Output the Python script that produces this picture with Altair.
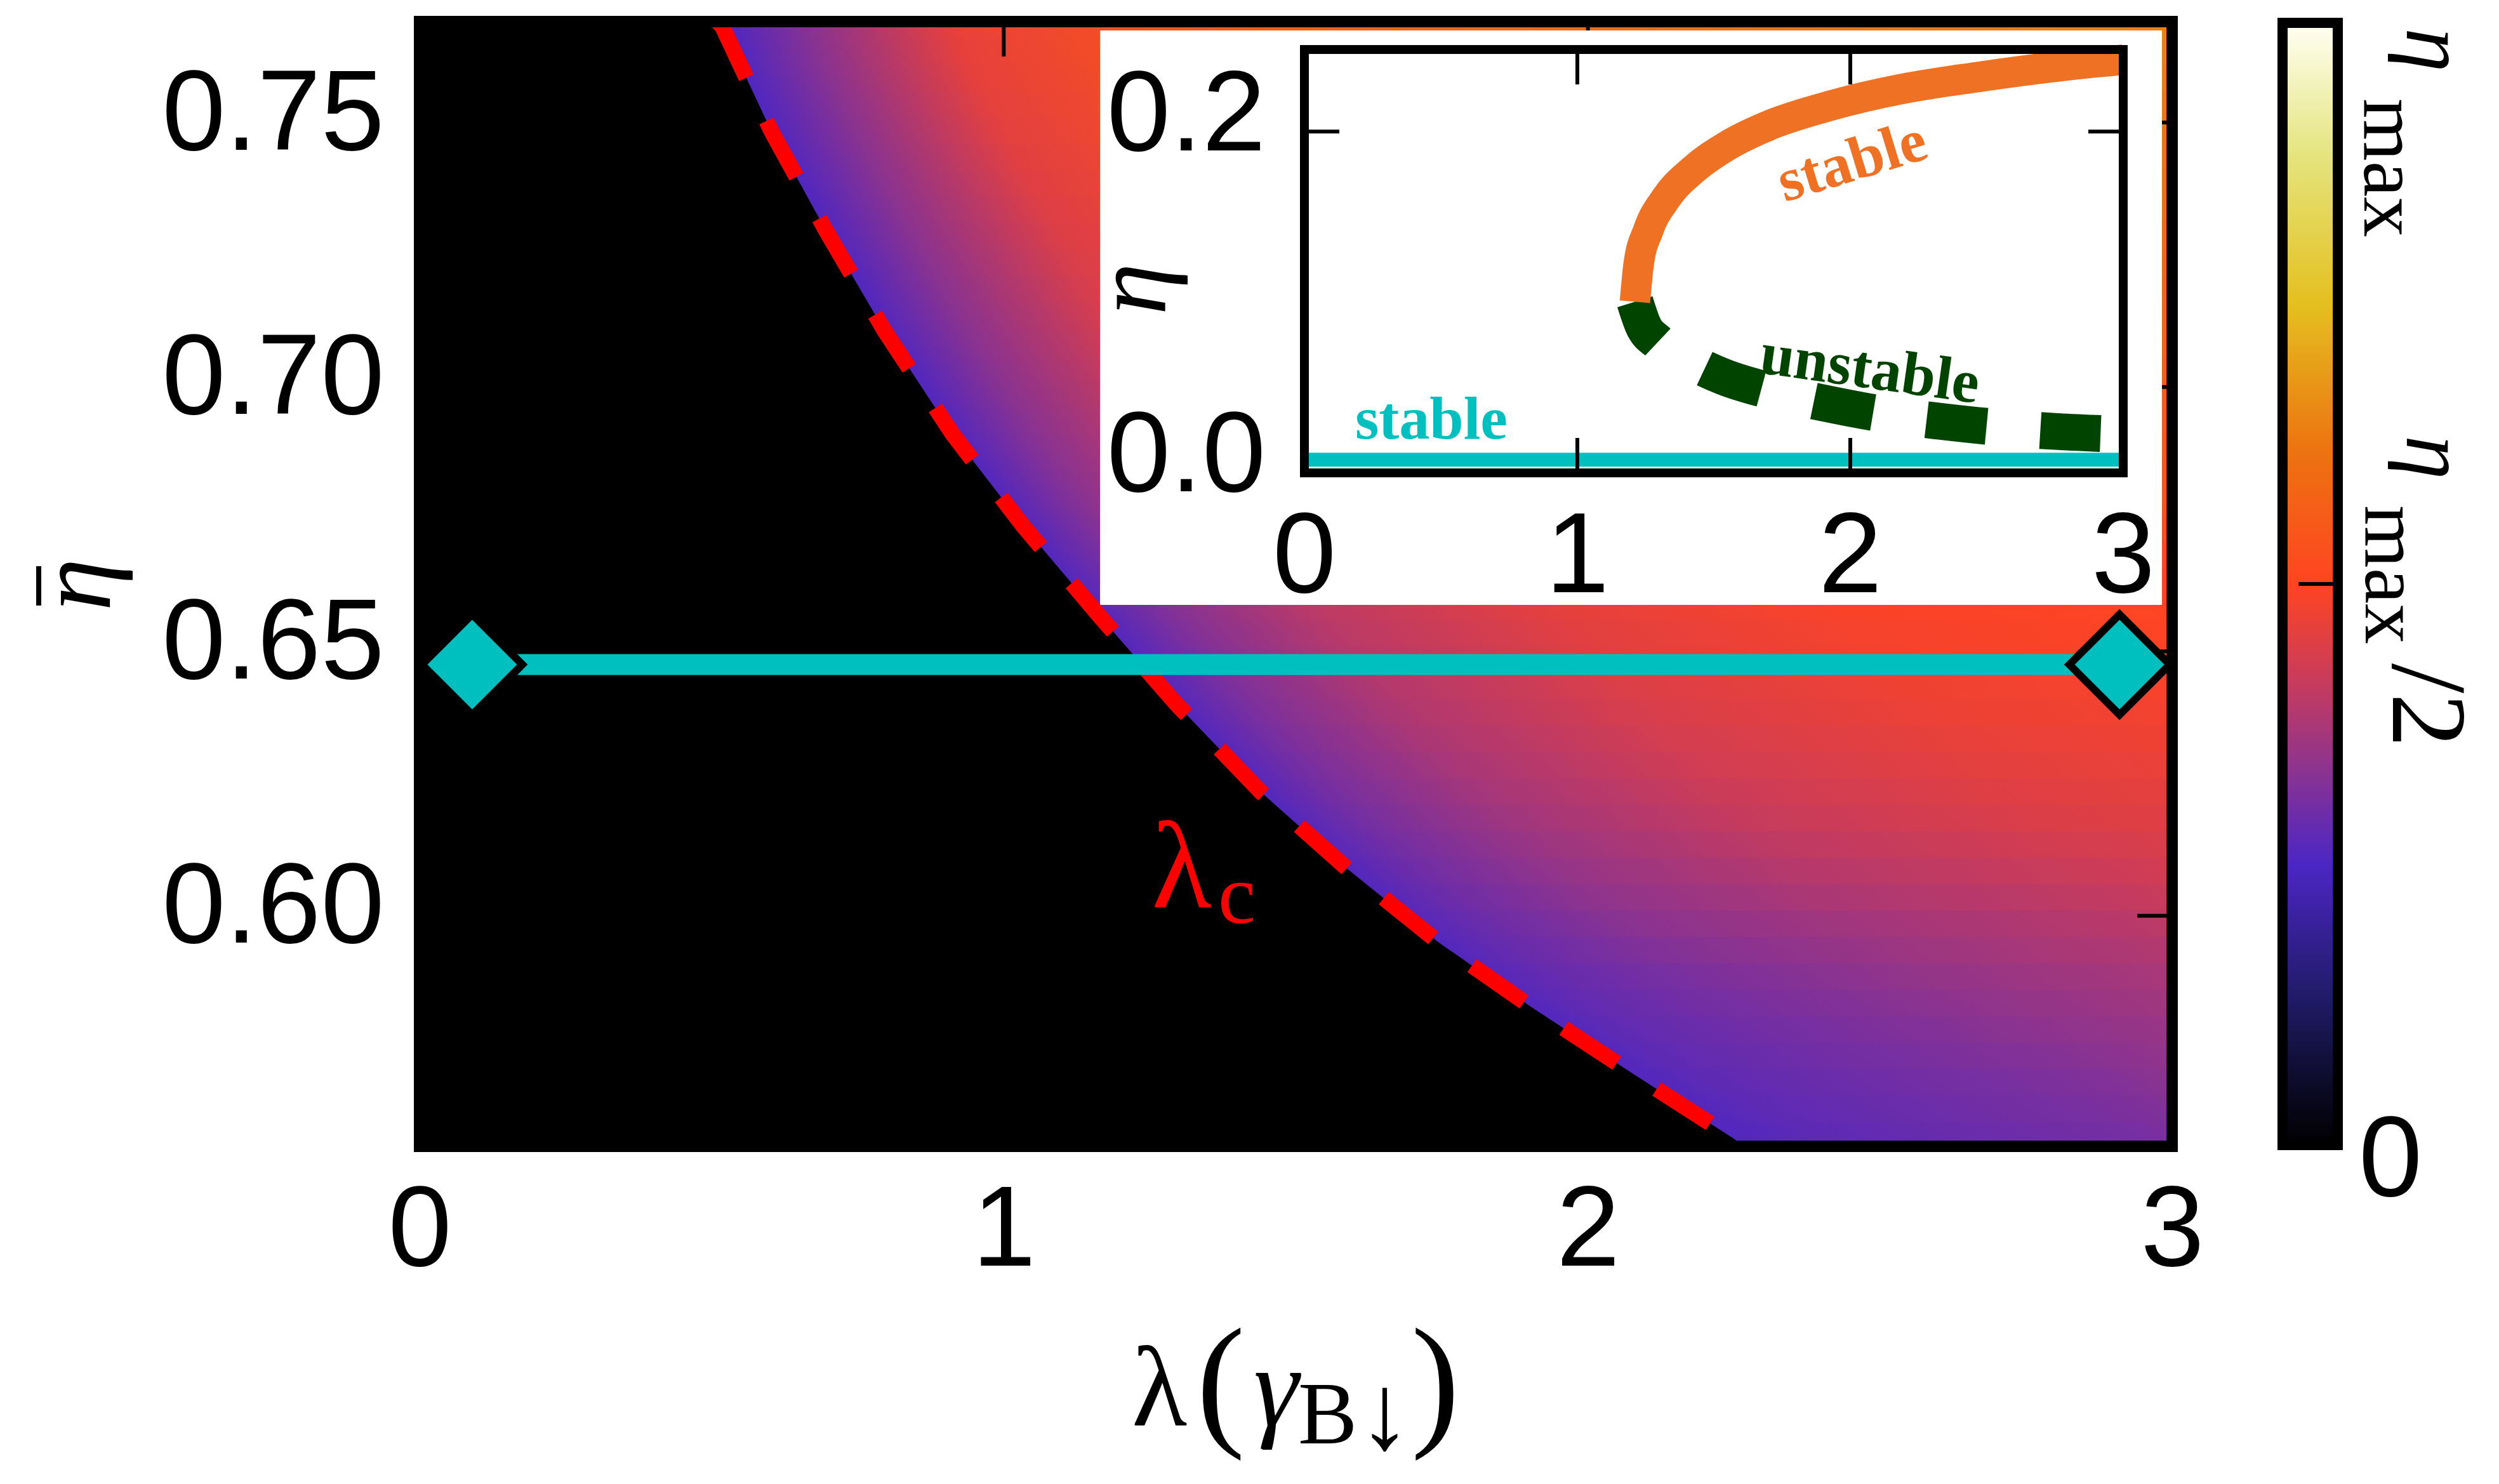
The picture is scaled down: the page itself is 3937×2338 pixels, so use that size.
import altair as alt
import pandas as pd

# ---------------- values ----------------
# main panel
main_x_ticks = [0, 1, 2, 3]
main_y_ticks = [0.60, 0.65, 0.70, 0.75]
main_x_domain = [0.0, 3.0]
main_y_domain = [0.5564, 0.7691]

# critical line lambda_c(eta_bar) (red dashed)
crit_eta = [0.7691, 0.7682, 0.7484, 0.7295, 0.7106, 0.6910, 0.6736, 0.6568,
            0.6401, 0.6234, 0.6088, 0.5950, 0.5826, 0.5702, 0.5579, 0.5564]
crit_lam = [0.510, 0.518, 0.602, 0.696, 0.796, 0.913, 1.034, 1.163,
            1.295, 1.440, 1.589, 1.744, 1.905, 2.076, 2.249, 2.268]

# heat-map rows: lower eta_bar edge, boundary lambda at the row's upper edge,
# value (fraction of eta_max) at distances row_offsets from the boundary, and at lambda = 3
row_eta_lo = [0.556, 0.566, 0.576, 0.586, 0.596, 0.606, 0.616, 0.626, 0.636, 0.646, 0.656,
              0.666, 0.676, 0.686, 0.696, 0.706, 0.716, 0.726, 0.736, 0.746, 0.756, 0.766]
row_lam_start = [2.135, 1.996, 1.861, 1.733, 1.620, 1.516, 1.417, 1.331, 1.248, 1.169, 1.092,
                 1.017, 0.948, 0.883, 0.824, 0.767, 0.715, 0.664, 0.614, 0.570, 0.527, 0.510]
row0_lam_lo = 2.275   # boundary lambda at the lowest row's lower edge
row_offsets = [0.0, 0.15, 0.4, 0.8, 1.3, 2.0]
row_values = [
    [0.25, 0.270, 0.287, 0.310],
    [0.25, 0.274, 0.293, 0.318],
    [0.25, 0.279, 0.302, 0.332],
    [0.25, 0.284, 0.312, 0.346],
    [0.25, 0.291, 0.332, 0.365, 0.397],
    [0.25, 0.298, 0.348, 0.390, 0.420],
    [0.25, 0.305, 0.362, 0.412, 0.443],
    [0.25, 0.310, 0.373, 0.426, 0.457],
    [0.25, 0.315, 0.383, 0.438, 0.470],
    [0.25, 0.318, 0.390, 0.448, 0.480],
    [0.25, 0.323, 0.398, 0.458, 0.490],
    [0.25, 0.326, 0.405, 0.465, 0.500],
    [0.25, 0.329, 0.418, 0.475, 0.512, 0.540],
    [0.25, 0.329, 0.422, 0.482, 0.520, 0.550],
    [0.25, 0.330, 0.427, 0.490, 0.530, 0.560],
    [0.25, 0.330, 0.432, 0.498, 0.540, 0.570],
    [0.25, 0.330, 0.438, 0.506, 0.550, 0.580],
    [0.25, 0.330, 0.444, 0.514, 0.558, 0.590],
    [0.25, 0.330, 0.450, 0.522, 0.566, 0.600],
    [0.25, 0.330, 0.456, 0.530, 0.574, 0.608],
    [0.25, 0.330, 0.461, 0.538, 0.582, 0.616],
    [0.25, 0.330, 0.465, 0.546, 0.590, 0.624],
]
row_end_values = [0.328, 0.340, 0.356, 0.376, 0.410, 0.432, 0.452, 0.468, 0.482, 0.495, 0.503,
                  0.515, 0.540, 0.552, 0.563, 0.574, 0.586, 0.598, 0.610, 0.622, 0.634, 0.645]

# horizontal path with the two diamonds
path_lam = [0.09, 2.91]
path_eta = [0.6475, 0.6475]

# lambda_c label position
lamc_lam = [1.253]
lamc_eta = [0.6017]
sub_c_lam = [1.367]
sub_c_eta = [0.5986]

# inset
inset_x_ticks = [0, 1, 2, 3]
inset_y_ticks = [0.0, 0.2]
inset_x_domain = [0.0, 3.0]
inset_y_domain = [-0.008, 0.25]
stable_lam = [1.211, 1.225, 1.259, 1.324, 1.423, 1.549, 1.718, 1.930, 2.184, 2.466, 2.747, 2.987, 3.0]
stable_eta = [0.0963, 0.1197, 0.1395, 0.1592, 0.1765, 0.1913, 0.2048, 0.2159, 0.2258, 0.2332, 0.2394, 0.2436, 0.2438]
unstable_lam = [1.211, 1.239, 1.296, 1.394, 1.535, 1.704, 1.902, 2.099, 2.324, 2.536, 2.747, 2.973, 3.0]
unstable_eta = [0.0963, 0.0827, 0.0716, 0.0617, 0.0506, 0.0420, 0.0346, 0.0284, 0.0235, 0.0198, 0.0173, 0.0156, 0.0154]
trivial_lam = [0.0, 3.0]
trivial_eta = [0.0, 0.0]

# colour map (fraction of eta_max -> colour)
pal_pos = [0.0, 0.06, 0.125, 0.25, 0.34, 0.42, 0.5, 0.62, 0.75, 0.88, 1.0]
pal_col = ["#000000", "#0e0c2c", "#1e1a62", "#4b26c4", "#90348c", "#cc3c58",
           "#ff4422", "#ec7410", "#e4c020", "#e4e47c", "#fffff4"]

# ---------------- styling / layout ----------------
SANS = "Liberation Sans"
SERIF = "Liberation Serif"
CYAN = "#00bfbf"
ORANGE = "#ee7124"
GREEN = "#004400"
RED = "#ff0000"
W, H = 2761, 1772
PAD = {"left": 653, "top": 26, "right": 507, "bottom": 524}


def hex2rgb(h):
    return tuple(int(h[i:i + 2], 16) for i in (1, 3, 5))


def palette(v):
    v = min(max(v, 0.0), 1.0)
    for i in range(len(pal_pos) - 1):
        if v <= pal_pos[i + 1]:
            t = (v - pal_pos[i]) / (pal_pos[i + 1] - pal_pos[i])
            a, b = hex2rgb(pal_col[i]), hex2rgb(pal_col[i + 1])
            return "#%02x%02x%02x" % tuple(int(round(a[k] + (b[k] - a[k]) * t)) for k in range(3))
    return pal_col[-1]


xs = alt.Scale(domain=main_x_domain, zero=False, nice=False)
ys = alt.Scale(domain=main_y_domain, zero=False, nice=False)
x_axis = alt.Axis(values=main_x_ticks, format="d", title=None, labelFont=SANS, labelFontSize=180,
                  labelColor="black", labelPadding=45, tickSize=0, domain=False, grid=False,
                  labelOverlap=False, labelFlush=False, labelBound=False, labelLimit=0)
y_axis = alt.Axis(values=main_y_ticks, format=".2f", title=None, labelFont=SANS, labelFontSize=180,
                  labelColor="black", labelPadding=56, labelOffset=-12, tickSize=0, domain=False,
                  grid=False, labelOverlap=False, labelFlush=False, labelBound=False, labelLimit=0)


def MX(f):
    return alt.X(f, type="quantitative", scale=xs, axis=x_axis)


def MY(f):
    return alt.Y(f, type="quantitative", scale=ys, axis=y_axis)


# inset scale placement (pixel positions of the inset frame inside the main view)
ix0, ix1 = 1394.0, 2684.0   # lambda = 0 and 3
iy_top, iy_bot = 44.0, 711.0  # eta = 0.25 and -0.008
sx = (ix1 - ix0) / (inset_x_domain[1] - inset_x_domain[0])
sy = (iy_bot - iy_top) / (inset_y_domain[1] - inset_y_domain[0])
ixs = alt.Scale(domain=[inset_x_domain[0] - ix0 / sx, inset_x_domain[1] + (W - ix1) / sx],
                zero=False, nice=False)
iys = alt.Scale(domain=[inset_y_domain[0] - (H - iy_bot) / sy, inset_y_domain[1] + iy_top / sy],
                zero=False, nice=False)


def IX(f):
    return alt.X(f, type="quantitative", scale=ixs, axis=None)


def IY(f):
    return alt.Y(f, type="quantitative", scale=iys, axis=None)


one = pd.DataFrame({"a": [0]})

# ---------------- main panel ----------------
band_layers, blend_layers = [], []
for i, (lo, start) in enumerate(zip(row_eta_lo, row_lam_start)):
    span = main_x_domain[1] - start
    lower = row_lam_start[i - 1] if i > 0 else row0_lam_lo
    slant = max(lower - start, 0.0) / span      # gradient follows the sloping boundary
    stops = [alt.GradientStop(offset=round(d / span, 4), color=palette(v))
             for d, v in zip(row_offsets, row_values[i]) if d < span]
    stops.append(alt.GradientStop(offset=1, color=palette(row_end_values[i])))
    grad = alt.LinearGradient(gradient="linear", stops=stops, x1=0, y1=round(slant, 4), x2=1, y2=0)
    hi = row_eta_lo[i + 1] if i + 1 < len(row_eta_lo) else lo + 0.01
    half = (hi - lo) / 2
    df = pd.DataFrame({"lam0": [start], "lam1": [main_x_domain[1]], "eta0": [lo], "eta1": [hi + 0.0004]})
    band_layers.append(
        alt.Chart(df).mark_rect(fill=grad, clip=True, strokeWidth=0)
        .encode(x=MX("lam0"), x2="lam1", y=MY("eta0"), y2="eta1")
    )
    # half-row shifted translucent copy softens the steps between rows
    df2 = pd.DataFrame({"lam0": [start], "lam1": [main_x_domain[1]], "eta0": [lo - half], "eta1": [hi - half]})
    blend_layers.append(
        alt.Chart(df2).mark_rect(fill=grad, clip=True, strokeWidth=0, opacity=0.5)
        .encode(x=MX("lam0"), x2="lam1", y=MY("eta0"), y2="eta1")
    )
main_layers = band_layers + blend_layers

crit_df = pd.DataFrame({"lam": crit_lam, "eta": crit_eta, "lam_left": [0.0] * len(crit_lam)})
main_layers.append(
    alt.Chart(crit_df).mark_area(orient="horizontal", color="black", clip=True)
    .encode(y=MY("eta"), x=MX("lam"), x2="lam_left")
)
main_layers.append(
    alt.Chart(crit_df).mark_line(color=RED, strokeWidth=25, strokeDash=[100, 75], clip=True)
    .encode(x=MX("lam"), y=MY("eta"), order=alt.Order("eta", sort="descending"))
)
main_layers.append(
    alt.Chart(pd.DataFrame({"lam": lamc_lam, "eta": lamc_eta, "t": ["λ"]}))
    .mark_text(font=SERIF, fontSize=195, color=RED, align="left", baseline="alphabetic")
    .encode(x=MX("lam"), y=MY("eta"), text="t:N")
)
main_layers.append(
    alt.Chart(pd.DataFrame({"lam": sub_c_lam, "eta": sub_c_eta, "t": ["c"]}))
    .mark_text(font=SERIF, fontSize=133, color=RED, align="left", baseline="alphabetic")
    .encode(x=MX("lam"), y=MY("eta"), text="t:N")
)
# inward mirror ticks (top and right)
main_layers.append(
    alt.Chart(pd.DataFrame({"lam": main_x_ticks[1:3]})).mark_rule(color="black", strokeWidth=6)
    .encode(x=MX("lam"), y=alt.value(0), y2=alt.value(55))
)
main_layers.append(
    alt.Chart(pd.DataFrame({"eta": main_y_ticks})).mark_rule(color="black", strokeWidth=6)
    .encode(y=MY("eta"), x=alt.value(W - 55), x2=alt.value(W))
)
path_df = pd.DataFrame({"lam": path_lam, "eta": path_eta})
main_layers.append(
    alt.Chart(path_df).mark_line(color=CYAN, strokeWidth=33).encode(x=MX("lam"), y=MY("eta"))
)
main_layers.append(
    alt.Chart(path_df).mark_point(shape="diamond", size=24964, filled=True, fill=CYAN,
                                  stroke="black", strokeWidth=12, opacity=1)
    .encode(x=MX("lam"), y=MY("eta"))
)
main_group = alt.layer(*main_layers)

# ---------------- inset ----------------
inset_layers = [
    alt.Chart(one).mark_rect(fill="white", strokeWidth=0)
    .encode(x=alt.value(1072), x2=alt.value(2745), y=alt.value(14), y2=alt.value(919)),
    alt.Chart(pd.DataFrame({"lam": trivial_lam, "eta": trivial_eta}))
    .mark_line(color=CYAN, strokeWidth=22).encode(x=IX("lam"), y=IY("eta")),
    alt.Chart(pd.DataFrame({"lam": unstable_lam, "eta": unstable_eta}))
    .mark_line(color=GREEN, strokeWidth=58, strokeDash=[95, 85], strokeDashOffset=20,
               interpolate="monotone")
    .encode(x=IX("lam"), y=IY("eta")),
    alt.Chart(pd.DataFrame({"lam": stable_lam, "eta": stable_eta}))
    .mark_line(color=ORANGE, strokeWidth=48, interpolate="monotone", strokeCap="butt")
    .encode(x=IX("lam"), y=IY("eta")),
    alt.Chart(pd.DataFrame({"lam": [2.007], "eta": [0.1814], "t": ["stable"]}))
    .mark_text(font=SERIF, fontWeight="bold", fontSize=96, color=ORANGE, angle=343,
               align="center", baseline="middle")
    .encode(x=IX("lam"), y=IY("eta"), text="t:N"),
    alt.Chart(pd.DataFrame({"lam": [2.072], "eta": [0.0549], "t": ["unstable"]}))
    .mark_text(font=SERIF, fontWeight="bold", fontSize=96, color=GREEN, angle=8,
               align="center", baseline="middle")
    .encode(x=IX("lam"), y=IY("eta"), text="t:N"),
    alt.Chart(pd.DataFrame({"lam": [0.465], "eta": [0.024], "t": ["stable"]}))
    .mark_text(font=SERIF, fontWeight="bold", fontSize=96, color=CYAN,
               align="center", baseline="middle")
    .encode(x=IX("lam"), y=IY("eta"), text="t:N"),
    alt.Chart(pd.DataFrame({"lam": [-0.625], "eta": [0.104], "t": ["η"]}))
    .mark_text(font=SERIF, fontStyle="italic", fontSize=165, color="black", angle=270,
               align="center", baseline="middle")
    .encode(x=IX("lam"), y=IY("eta"), text="t:N"),
    # ticks
    alt.Chart(pd.DataFrame({"lam": inset_x_ticks[1:3], "eta": [inset_y_domain[1]] * 2}))
    .mark_rule(color="black", strokeWidth=6, y2Offset=55)
    .encode(x=IX("lam"), y=IY("eta"), y2="eta"),
    alt.Chart(pd.DataFrame({"lam": inset_x_ticks[1:3], "eta": [inset_y_domain[0]] * 2}))
    .mark_rule(color="black", strokeWidth=6, y2Offset=-55)
    .encode(x=IX("lam"), y=IY("eta"), y2="eta"),
    alt.Chart(pd.DataFrame({"lam": [inset_x_domain[0]], "eta": [inset_y_ticks[1]]}))
    .mark_rule(color="black", strokeWidth=6, x2Offset=55)
    .encode(x=IX("lam"), x2="lam", y=IY("eta")),
    alt.Chart(pd.DataFrame({"lam": [inset_x_domain[1]], "eta": [inset_y_ticks[1]]}))
    .mark_rule(color="black", strokeWidth=6, x2Offset=-55)
    .encode(x=IX("lam"), x2="lam", y=IY("eta")),
    # tick labels
    alt.Chart(pd.DataFrame({"lam": [0.0], "eta": [inset_y_ticks[0]], "t": ["%.1f" % inset_y_ticks[0]]}))
    .mark_text(font=SANS, fontSize=180, color="black", align="right", baseline="middle", dx=-61, dy=-4)
    .encode(x=IX("lam"), y=IY("eta"), text="t:N"),
    alt.Chart(pd.DataFrame({"lam": [0.0], "eta": [inset_y_ticks[1]], "t": ["%.1f" % inset_y_ticks[1]]}))
    .mark_text(font=SANS, fontSize=180, color="black", align="right", baseline="middle", dx=-61, dy=-24)
    .encode(x=IX("lam"), y=IY("eta"), text="t:N"),
    alt.Chart(pd.DataFrame({"lam": inset_x_ticks, "eta": [inset_y_domain[0]] * len(inset_x_ticks),
                            "t": [str(v) for v in inset_x_ticks]}))
    .mark_text(font=SANS, fontSize=180, color="black", align="center", baseline="top", dy=46)
    .encode(x=IX("lam"), y=IY("eta"), text="t:N"),
    # frame
    alt.Chart(pd.DataFrame({"l0": [inset_x_domain[0]], "l1": [inset_x_domain[1]],
                            "e0": [inset_y_domain[0]], "e1": [inset_y_domain[1]]}))
    .mark_rect(filled=False, color="black", stroke="black", strokeWidth=14)
    .encode(x=IX("l0"), x2="l1", y=IY("e0"), y2="e1"),
]
inset_group = alt.layer(*inset_layers)

# ---------------- guides: frame, colour bar, titles ----------------
cb_grad = alt.LinearGradient(gradient="linear",
                             stops=[alt.GradientStop(offset=p, color=c) for p, c in zip(pal_pos, pal_col)],
                             x1=0, x2=0, y1=1, y2=0)


def ptext(t, x, y, size, font=SERIF, style="normal", angle=0, align="left", baseline="alphabetic",
          color="black"):
    return (alt.Chart(pd.DataFrame({"t": [t]}))
            .mark_text(font=font, fontSize=size, fontStyle=style, angle=angle, align=align,
                       baseline=baseline, color=color)
            .encode(x=alt.value(x), y=alt.value(y), text="t:N"))


guides = [
    alt.Chart(one).mark_rect(filled=False, color="black", stroke="black", strokeWidth=18)
    .encode(x=alt.value(0), x2=alt.value(W), y=alt.value(0), y2=alt.value(H)),
    alt.Chart(one).mark_rect(fill=cb_grad, stroke="black", strokeWidth=16)
    .encode(x=alt.value(2935), x2=alt.value(3022), y=alt.value(2), y2=alt.value(1770)),
    alt.Chart(one).mark_rule(color="black", strokeWidth=6)
    .encode(x=alt.value(2960), x2=alt.value(3015), y=alt.value(886)),
    ptext("0", 3105, 1796, 180, font=SANS, align="center", baseline="middle"),
    ptext("η", 3131, 10, 140, style="italic", angle=90),
    ptext("max", 3064, 121, 127, angle=90),
    ptext("η", 3131, 652, 140, style="italic", angle=90),
    ptext("max", 3066, 762, 127, angle=90),
    ptext("/2", 3109, 1011, 170, angle=90),
    # y title  eta-bar
    ptext("η", -488, 887, 168, style="italic", angle=270, align="center"),
    alt.Chart(one).mark_rule(color="black", strokeWidth=8)
    .encode(x=alt.value(-600), y=alt.value(858), y2=alt.value(920)),
    # x title  lambda(gamma_B down)
    ptext("λ", 1122, 2212, 180),
    ptext("(", 1224, 2218, 230),
    ptext("γ", 1314, 2212, 180, style="italic"),
    ptext("B", 1384, 2240, 140),
    ptext("↓", 1478, 2248, 170),
    ptext(")", 1562, 2218, 230),
]

chart = (
    alt.layer(main_group, inset_group, *guides)
    .resolve_scale(x="independent", y="independent")
    .properties(width=W, height=H, padding=PAD, autosize=alt.AutoSizeParams(type="none"),
                background="white")
    .configure_view(fill="black", strokeWidth=0)
)

chart.save("out.html", embed_options={"renderer": "svg", "actions": False})
